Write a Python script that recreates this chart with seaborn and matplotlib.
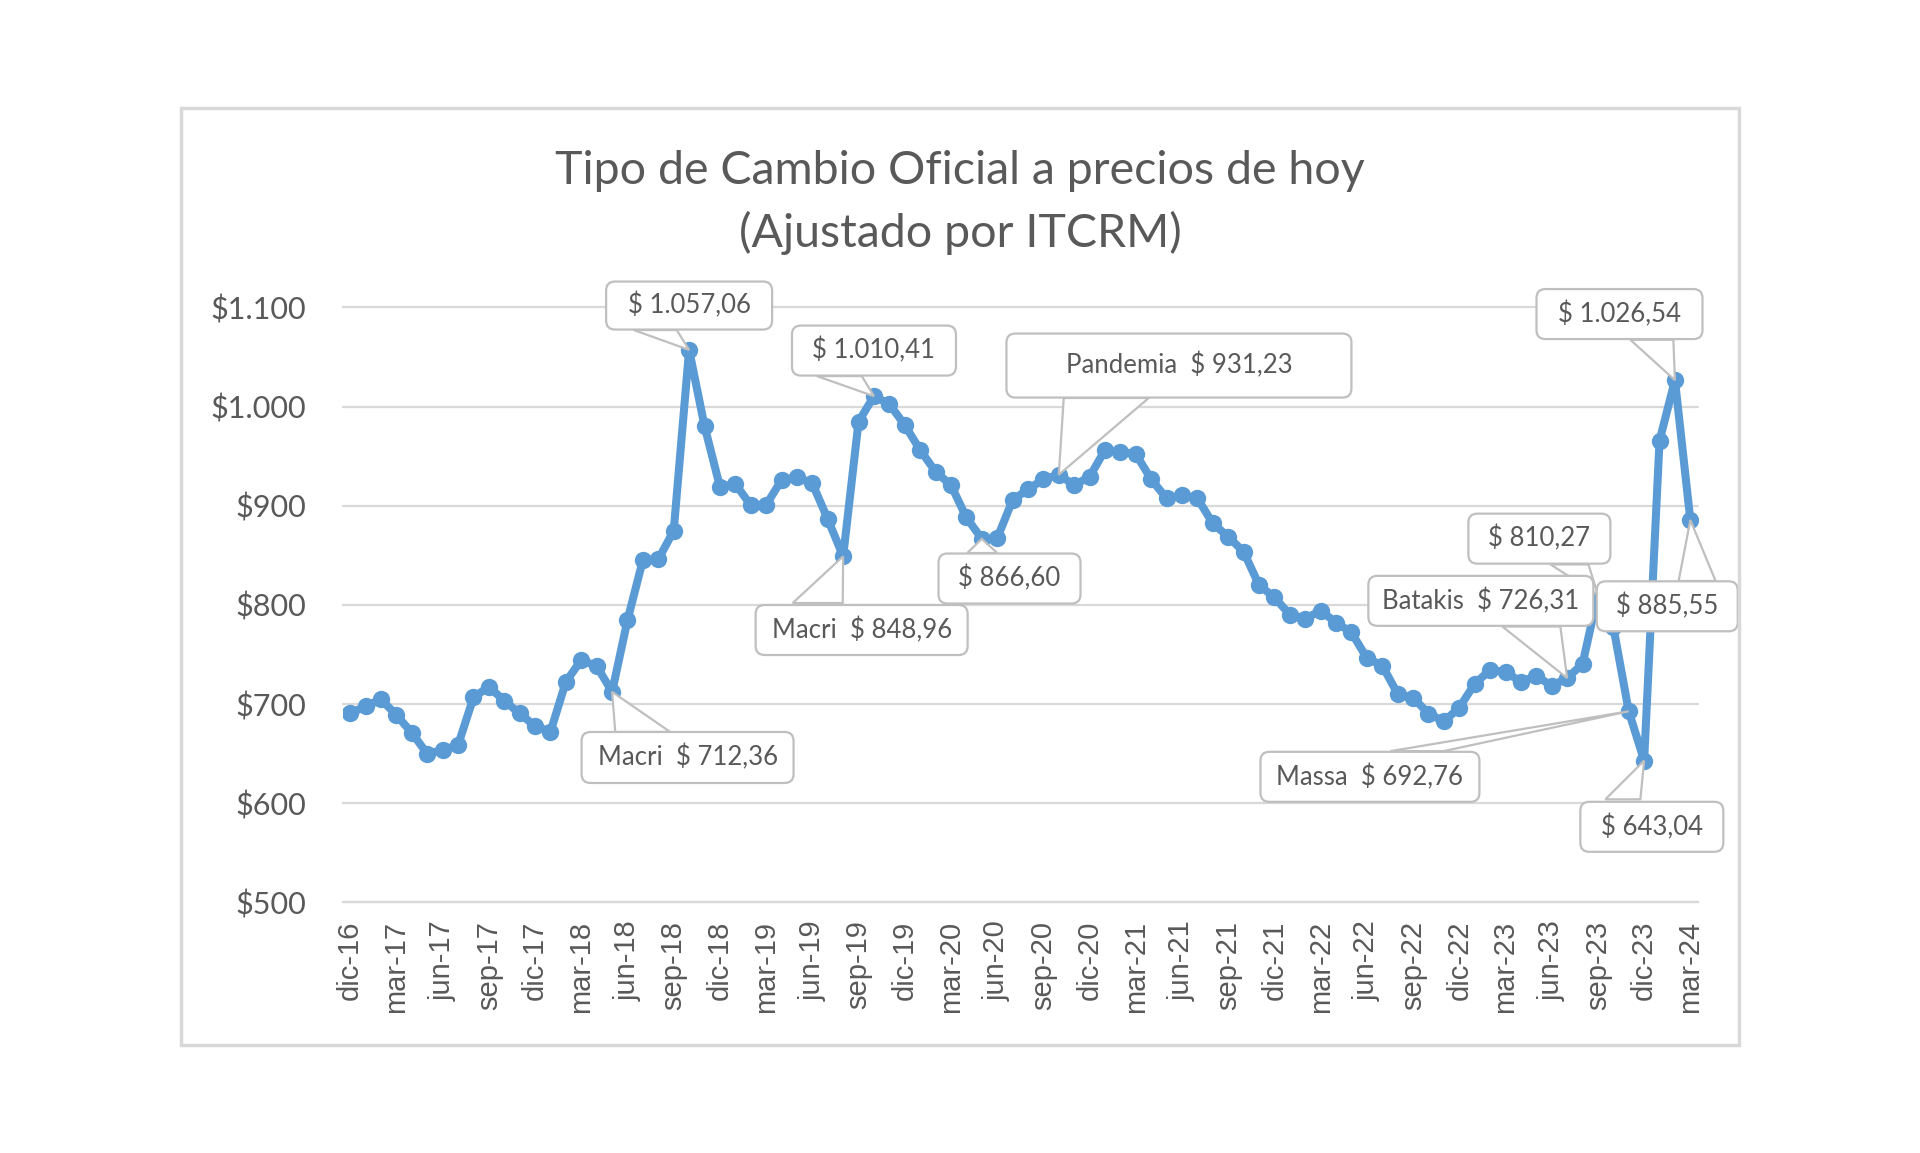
import matplotlib
matplotlib.use("Agg")
import matplotlib.pyplot as plt
import seaborn as sns
import pandas as pd
from matplotlib.patches import Rectangle, BoxStyle, Polygon

# ---------------- data ----------------
tick_labels = ["dic-16", "mar-17", "jun-17", "sep-17", "dic-17", "mar-18", "jun-18",
               "sep-18", "dic-18", "mar-19", "jun-19", "sep-19", "dic-19", "mar-20",
               "jun-20", "sep-20", "dic-20", "mar-21", "jun-21", "sep-21", "dic-21",
               "mar-22", "jun-22", "sep-22", "dic-22", "mar-23", "jun-23", "sep-23",
               "dic-23", "mar-24"]

values = [690.6, 698.0, 704.7, 689.0, 671.0, 650.0, 653.6, 658.7, 706.7, 717.5,
          703.4, 690.6, 677.8, 672.1, 722.5, 744.4, 738.3, 712.36, 784.7, 845.2,
          845.9, 874.8, 1057.06, 980.3, 919.2, 921.8, 900.7, 900.7, 925.9, 928.6,
          922.5, 886.5, 848.96, 984.7, 1010.41, 1002.5, 981.3, 956.1, 934.3, 920.8,
          888.2, 866.60, 867.1, 905.7, 916.5, 926.6, 931.23, 920.8, 929.2, 956.1,
          954.5, 952.1, 926.6, 907.4, 910.7, 907.4, 882.2, 868.7, 853.6, 820.0,
          807.5, 790.2, 786.2, 794.2, 782.2, 772.2, 746.5, 738.8, 710.4, 706.5,
          690.5, 682.5, 696.5, 720.4, 734.4, 732.4, 722.4, 728.4, 718.4, 726.31,
          740.4, 810.27, 778.0, 692.76, 643.04, 965.6, 1026.54, 885.55]

y_ticks = [500, 600, 700, 800, 900, 1000, 1100]
y_tick_labels = ["$500", "$600", "$700", "$800", "$900", "$1.000", "$1.100"]

# callouts: text, index of point, text centre (x in months, y in value)
callout_texts = ["$ 1.057,06", "$ 1.010,41", "Pandemia  $ 931,23", "$ 866,60",
                 "Macri  $ 848,96", "Macri  $ 712,36", "$ 1.026,54", "$ 810,27",
                 "Batakis  $ 726,31", "$ 885,55", "Massa  $ 692,76", "$ 643,04"]
callout_points = [22, 34, 46, 41, 32, 17, 86, 81, 79, 87, 83, 84]
callout_pos_x = [22.0, 34.0, 53.8, 42.8, 33.2, 21.9, 82.4, 77.2, 73.4, 85.5, 66.2, 84.5]
callout_pos_y = [1101.8, 1056.4, 1041.3, 826.6, 774.7, 646.2, 1093.2, 866.8, 804.1,
                 798.6, 626.7, 576.3]
# callout box sizes (pixels)
callout_w = [166, 164, 345, 142, 212, 212, 166, 142, 225, 141, 219, 143]
callout_h = [48, 50, 64, 50, 50, 51, 50, 50, 50, 50, 50, 50]
# where each pointer leaves its box edge (x in months, y in value) and base width (px)
pointer_base_x = [19.80, 31.75, 49.08, 41.03, 30.35, 18.99, 84.50, 79.15, 76.68,
                  87.44, 69.26, 82.62]
pointer_base_y = [1077.1, 1030.7, 1008.6, 852.3, 801.9, 671.9, 1067.3, 840.8, 778.2,
                  824.1, 652.6, 604.0]
pointer_width = [43, 45, 85, 30, 50, 55, 43, 38, 58, 37, 53, 35]

title_line1 = "Tipo de Cambio Oficial a precios de hoy"
title_line2 = "(Ajustado por ITCRM)"

# ---------------- style ----------------
sns.set_style("white")
plt.rcParams["font.family"] = ["Lato", "DejaVu Sans"]

TXT = "#595959"
GRID = "#d9d9d9"
BLUE = "#5B9BD5"
BOX_EC = "#bfbfbf"
DPI = 100
FIG_W, FIG_H = 19.2, 11.53
AX_RECT = [0.1784, 0.21726, 0.7060, 0.5162]


def fixed_box(w, h, r=9):
    rounder = BoxStyle.Round(pad=0, rounding_size=r)

    def style(x0, y0, width, height, mutation_size):
        cx = x0 + width / 2
        cy = y0 + height / 2
        return rounder(cx - w / 2, cy - h / 2, w, h, 1)
    return style


df = pd.DataFrame({"idx": list(range(len(values))), "valor": values})

fig = plt.figure(figsize=(FIG_W, FIG_H), dpi=DPI)
ax = fig.add_axes(AX_RECT)

sns.lineplot(data=df, x="idx", y="valor", ax=ax, color=BLUE, linewidth=5.8,
             marker="o", markersize=12.5, markeredgewidth=0, zorder=3)

ax.set_xlim(-0.5, len(values) - 0.5)
ax.set_ylim(500, 1100)
ax.set_yticks(y_ticks)
ax.set_yticklabels(y_tick_labels, fontsize=22, color=TXT)
ax.set_xticks(list(range(0, len(values), 3)))
ax.set_xticklabels(tick_labels, rotation=90, fontsize=21, color=TXT,
                   family=["Liberation Sans", "DejaVu Sans"])
ax.tick_params(axis="y", length=0, pad=26)
ax.tick_params(axis="x", length=0, pad=13)
ax.set_xlabel("")
ax.set_ylabel("")

for s in ["top", "right", "left"]:
    ax.spines[s].set_visible(False)
ax.spines["bottom"].set_color(GRID)
ax.spines["bottom"].set_linewidth(1.6)

ax.yaxis.grid(True, color=GRID, linewidth=1.6)
ax.xaxis.grid(False)
for gl in ax.get_ygridlines():
    gl.set_clip_on(False)
ax.set_axisbelow(True)

# pixels per month along x
px_per_month = AX_RECT[2] * FIG_W * DPI / len(values)

# callout pointers (triangles from box edge to the point)
for pi, bx, by, pw in zip(callout_points, pointer_base_x, pointer_base_y, pointer_width):
    hw = pw / 2 / px_per_month
    tri = Polygon([(bx - hw, by), (bx + hw, by), (pi, values[pi])], closed=True,
                  fc="white", ec=BOX_EC, lw=1.6, zorder=4, clip_on=False,
                  joinstyle="miter")
    ax.add_patch(tri)

# callout boxes
for txt, tx, ty, bw, bh in zip(callout_texts, callout_pos_x, callout_pos_y,
                               callout_w, callout_h):
    ax.text(tx, ty, txt, ha="center", va="center", fontsize=18.5, color=TXT,
            zorder=5, clip_on=False,
            bbox=dict(boxstyle=fixed_box(bw, bh), fc="white", ec=BOX_EC, lw=1.6))

fig.text(0.5, 1 - 171.4 / 1153, title_line1, ha="center", va="center",
         fontsize=33.5, color=TXT)
fig.text(0.5, 1 - 232.7 / 1153, title_line2, ha="center", va="center",
         fontsize=33.5, color=TXT)

fig.patches.append(Rectangle((181 / 1920, 1 - 1045 / 1153), (1739 - 181) / 1920,
                             (1045 - 108) / 1153, transform=fig.transFigure,
                             fill=False, ec=GRID, lw=2.5, zorder=0))

fig.savefig("out.png", dpi=DPI, facecolor="white")
